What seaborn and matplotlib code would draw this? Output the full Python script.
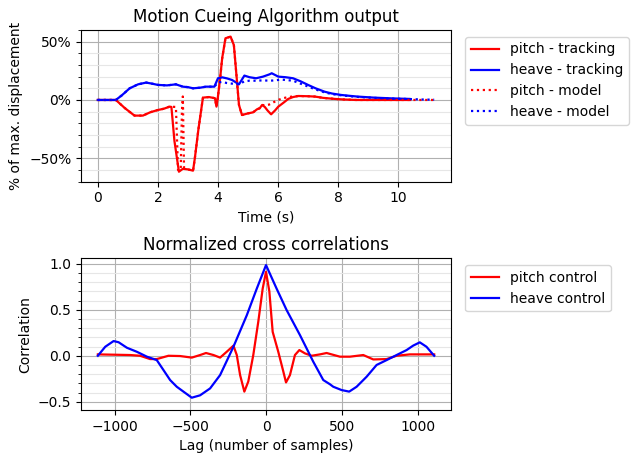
import numpy as np
import seaborn as sns
import matplotlib.pyplot as plt
from matplotlib.ticker import PercentFormatter, MultipleLocator

# ---- top: motion cueing output (percent of max displacement) ----
pitch_trk_t = [0, 0.3, 0.6, 0.9, 1.22, 1.5, 1.75, 2.0, 2.2, 2.39, 2.45, 2.55, 2.7, 2.83, 3.0, 3.17,
               3.23, 3.35, 3.5, 3.7, 3.9, 3.95, 4.0, 4.07, 4.14, 4.25, 4.42, 4.53, 4.62, 4.7, 4.8,
               5.0, 5.17, 5.3, 5.39, 5.47, 5.56, 5.65, 5.77, 5.9, 6.01, 6.2, 6.34, 6.5, 6.68,
               7.0, 7.23, 7.5, 7.89, 8.2, 8.6, 9.0, 9.5, 10.0, 10.4]
pitch_trk_v = [0, 0, 0, -7, -13.4, -13.4, -10.5, -8.6, -7.5, -5.7, -6, -35, -61.5, -59, -59.5, -60.6,
               -50, -25, 2, 2.5, 1.5, -5.7, 3, 18, 35.7, 52.9, 54.3, 47, 20, -4.3, -12.9,
               -11.5, -10.6, -8, -7.1, -4.3, -6, -9, -12.3, -9, -5.7, -2, 0.9, 2.5, 3.4,
               3.2, 2.9, 1.8, 0.9, 0.4, 0, 0, 0, 0, 0]

pitch_mdl_t = [0, 0.3, 0.6, 0.9, 1.22, 1.5, 1.75, 2.0, 2.2, 2.39, 2.6, 2.67, 2.76, 2.8, 2.83, 2.87,
               3.0, 3.17, 3.23, 3.35, 3.5, 3.7, 3.9, 3.95, 4.0, 4.07, 4.14, 4.25, 4.42, 4.53, 4.62,
               4.7, 4.8, 5.0, 5.17, 5.3, 5.39, 5.47, 5.56, 5.7, 5.85, 6.0, 6.17, 6.34, 6.5, 6.68,
               7.0, 7.23, 7.5, 7.89, 8.2, 8.6, 9.0, 9.5, 10.0, 10.5, 11.2]
pitch_mdl_v = [0, 0, 0, -7, -13.4, -13.4, -10.5, -8.6, -7.5, -5.7, -6, -60, -60, -10, 3, -58,
               -59.5, -60.6, -50, -25, 2, 2.5, 1.5, -5.7, 3, 18, 35.7, 52.9, 54.3, 47, 20,
               -4.3, -12.9, -11.5, -10.6, -8, -7.1, -4.3, -4.5, -4, -2, 0, 1.5, 2.5, 3, 3.4,
               3.2, 2.9, 1.8, 0.9, 0.4, 0, 0, 0, 0, 0, 0]

heave_trk_t = [0, 0.3, 0.6, 0.8, 1.06, 1.34, 1.61, 1.8, 2.0, 2.3, 2.6, 2.83, 3.0, 3.17, 3.4, 3.6,
               3.88, 4.0, 4.14, 4.3, 4.47, 4.7, 4.88, 5.05, 5.27, 5.5, 5.72, 5.79, 6.01, 6.25,
               6.5, 6.75, 7.0, 7.25, 7.55, 7.8, 8.1, 8.4, 8.65, 9.2, 9.76, 10.37]
heave_trk_v = [0, 0, 0, 4, 10, 13.4, 14.9, 14, 12.9, 12.5, 13.4, 11.4, 11, 10, 10.5, 11.4,
               11.4, 18.6, 19.4, 18.5, 17.1, 13.4, 20.9, 19.5, 18.6, 20, 22, 22.9, 20, 19.5,
               18.6, 16, 12.9, 10, 7.1, 5.5, 4.3, 3.5, 2.9, 2, 1.4, 0.9]

heave_mdl_t = [0, 0.3, 0.6, 0.8, 1.06, 1.34, 1.61, 1.8, 2.0, 2.3, 2.6, 2.83, 3.0, 3.17, 3.4, 3.6,
               3.88, 4.0, 4.14, 4.3, 4.47, 4.7, 4.88, 5.05, 5.27, 5.5, 5.72, 5.9, 6.1, 6.3,
               6.5, 6.75, 7.0, 7.25, 7.55, 7.8, 8.1, 8.4, 8.65, 9.2, 9.76, 10.37, 10.8, 11.2]
heave_mdl_v = [0, 0, 0, 4, 10, 13.4, 14.9, 14, 12.9, 12.5, 13.4, 11.4, 11, 10, 10.5, 11.4,
               11.4, 15, 15.5, 14.5, 14, 13.4, 16, 16.5, 16.5, 16.8, 16.5, 16.8, 17.5, 17,
               16.5, 14, 11.5, 9, 6.5, 5, 4, 3.2, 2.6, 1.8, 1.2, 0.8, 0.4, 0.2]

# ---- bottom: normalized cross correlations ----
heave_lag = [-1110, -1061, -1006, -973, -918, -852, -786, -721, -677, -633, -589, -545, -490,
             -435, -369, -303, -215, -127, -61, 0,
             70, 136, 224, 312, 378, 422, 444, 499, 549, 598, 664, 730, 796, 862, 928, 971,
             1015, 1059, 1110]
heave_corr = [0.0, 0.098, 0.16, 0.147, 0.087, 0.043, -0.01, -0.047, -0.155, -0.264, -0.337, -0.39, -0.456,
              -0.43, -0.355, -0.21, 0.098, 0.44, 0.73, 0.986,
              0.73, 0.497, 0.225, -0.065, -0.264, -0.31, -0.337, -0.373, -0.39, -0.337, -0.228, -0.10,
              -0.047, 0.008, 0.062, 0.11, 0.146, 0.098, 0.0]

pitch_lag = [-1110, -897, -831, -765, -721, -644, -567, -490, -435, -396, -347, -303, -259, -215,
             -193, -171, -143, -117, -84, -51, -22, 0,
             22, 44, 81, 114, 132, 158, 191, 220, 257, 301, 356, 400, 488, 554, 642, 708,
             796, 862, 949, 1015, 1110]
pitch_corr = [0.015, 0.008, 0.0, -0.036, -0.036, 0.0, -0.003, -0.02, 0.008, 0.03, 0.008, -0.02, 0.044, 0.11,
              0.008, -0.21, -0.39, -0.28, 0.008, 0.37, 0.73, 0.913,
              0.70, 0.26, 0.043, -0.17, -0.29, -0.21, 0.008, 0.062, 0.026, 0.0, 0.015, 0.03, -0.01, -0.01,
              0.008, -0.04, -0.036, 0.0, 0.015, 0.015, 0.015]

fig = plt.figure(figsize=(6.42, 4.61), dpi=100)
ax1 = fig.add_axes([0.1262, 0.606, 0.5763, 0.329])
ax2 = fig.add_axes([0.1262, 0.1106, 0.5763, 0.3291])

sns.lineplot(x=pitch_trk_t, y=pitch_trk_v, ax=ax1, color='red', lw=1.6, estimator=None, label='pitch - tracking')
sns.lineplot(x=heave_trk_t, y=heave_trk_v, ax=ax1, color='blue', lw=1.6, estimator=None, label='heave - tracking')
sns.lineplot(x=pitch_mdl_t, y=pitch_mdl_v, ax=ax1, color='red', lw=1.6, ls=':', estimator=None, label='pitch - model')
sns.lineplot(x=heave_mdl_t, y=heave_mdl_v, ax=ax1, color='blue', lw=1.6, ls=':', estimator=None, label='heave - model')

sns.lineplot(x=pitch_lag, y=pitch_corr, ax=ax2, color='red', lw=1.6, estimator=None, label='pitch control')
sns.lineplot(x=heave_lag, y=heave_corr, ax=ax2, color='blue', lw=1.6, estimator=None, label='heave control')

ax1.set_xlim(-0.56, 11.76)
ax1.set_ylim(-70, 60)
ax1.set_yticks([-50, 0, 50])
ax1.yaxis.set_minor_locator(MultipleLocator(10))
ax1.yaxis.set_major_formatter(PercentFormatter(decimals=0))
ax1.set_title('Motion Cueing Algorithm output', fontsize=12)
ax1.set_xlabel('Time (s)')
ax1.set_ylabel('% of max. displacement')

ax2.set_xlim(-1221, 1221)
ax2.set_ylim(-0.59, 1.06)
ax2.set_yticks([-0.5, 0.0, 0.5, 1.0])
ax2.yaxis.set_minor_locator(MultipleLocator(0.1))
ax2.set_title('Normalized cross correlations', fontsize=12)
ax2.set_xlabel('Lag (number of samples)')
ax2.set_ylabel('Correlation')

for ax in (ax1, ax2):
    ax.grid(which='major', color='#b0b0b0', lw=0.8)
    ax.grid(which='minor', axis='y', color='#e6e6e6', lw=0.8)
    ax.set_axisbelow(True)
    ax.legend(loc='upper left', bbox_to_anchor=(1.02, 1.0), fontsize=10)

fig.savefig('out.png', dpi=100)
